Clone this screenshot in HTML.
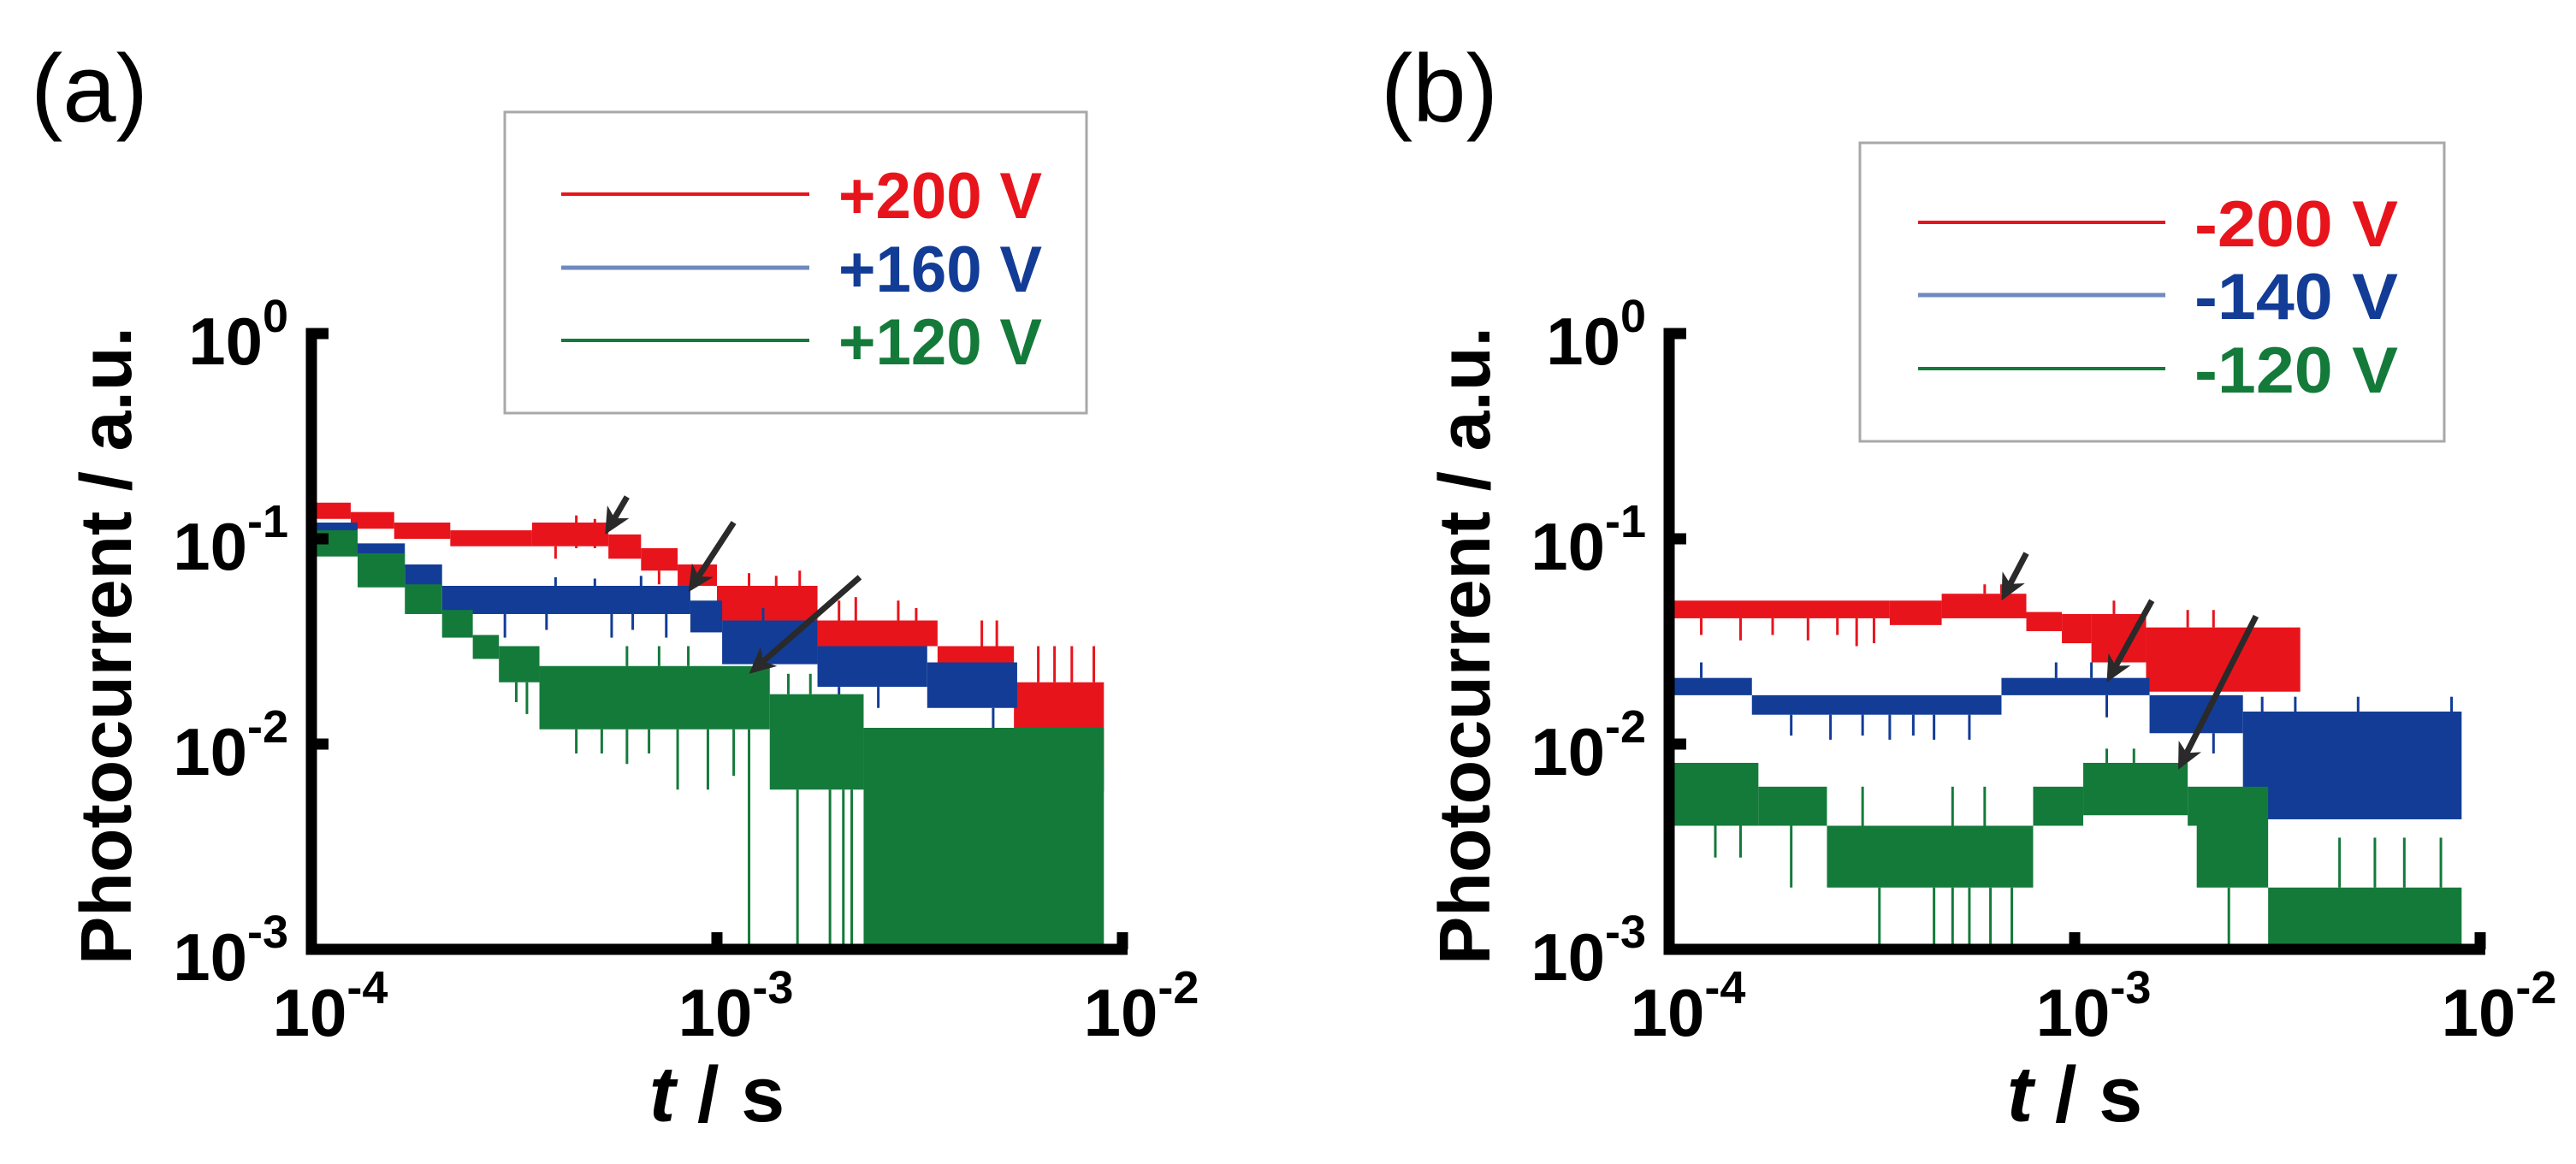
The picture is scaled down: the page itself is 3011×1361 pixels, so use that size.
<!DOCTYPE html>
<html><head><meta charset="utf-8"><style>
html,body{margin:0;padding:0;background:#fff}
svg{display:block}
text{font-family:"Liberation Sans",Arial,sans-serif}
</style></head><body>
<svg id="fig" width="3011" height="1361" viewBox="0 0 3011 1361" xmlns="http://www.w3.org/2000/svg">
<g id="pa"></g>
<g id="pb"></g>
</svg>
<script>
// ---- data: bands [tStart, tEnd, high, low] ----
const aRed=[[1.0e-4,1.25e-4,0.15,0.125],[1.25e-4,1.6e-4,0.135,0.112],[1.6e-4,2.2e-4,0.12,0.1],[2.2e-4,3.5e-4,0.11,0.092],[3.5e-4,5.4e-4,0.12,0.092],[5.4e-4,6.5e-4,0.105,0.08],[6.5e-4,8e-4,0.09,0.07],[8e-4,1.0e-3,0.075,0.059],[1.0e-3,1.77e-3,0.059,0.04],[1.77e-3,3.5e-3,0.04,0.03],[3.5e-3,5.4e-3,0.03,0.019],[5.4e-3,9.0e-3,0.02,0.0079]];
const aBlue=[[1e-4,1.3e-4,0.12,0.09],[1.3e-4,1.7e-4,0.095,0.072],[1.7e-4,2.1e-4,0.075,0.058],[2.1e-4,8.6e-4,0.059,0.043],[8.6e-4,1.03e-3,0.05,0.035],[1.03e-3,1.77e-3,0.04,0.0245],[1.77e-3,3.3e-3,0.03,0.019],[3.3e-3,5.5e-3,0.025,0.015],[5.5e-3,9e-3,0.0079,0.0059]];
const aGreen=[[1e-4,1.3e-4,0.11,0.082],[1.3e-4,1.7e-4,0.085,0.058],[1.7e-4,2.1e-4,0.06,0.043],[2.1e-4,2.5e-4,0.045,0.033],[2.5e-4,2.9e-4,0.034,0.026],[2.9e-4,3.65e-4,0.03,0.02],[3.65e-4,1.35e-3,0.024,0.0118],[1.35e-3,2.3e-3,0.0175,0.006],[2.3e-3,9e-3,0.012,0.001]];
const aRedSpikes=[[4.5e-4,0.09,0.13],[5.0e-4,0.09,0.125],[4.0e-4,0.092,0.08],[7.2e-4,0.07,0.06],[1.2e-3,0.059,0.068],[1.4e-3,0.059,0.066],[1.6e-3,0.059,0.07],[2.0e-3,0.04,0.05],[2.2e-3,0.04,0.052],[2.8e-3,0.03,0.05],[3.1e-3,0.04,0.046],[4.5e-3,0.03,0.04],[4.9e-3,0.03,0.04],[6.2e-3,0.02,0.03],[6.8e-3,0.02,0.03],[7.5e-3,0.02,0.03],[8.5e-3,0.02,0.03]];
const aBlueSpikes=[[3.0e-4,0.043,0.033],[3.8e-4,0.043,0.036],[5.5e-4,0.043,0.033],[6.2e-4,0.043,0.036],[7.5e-4,0.043,0.033],[4.0e-4,0.059,0.065],[6.5e-4,0.059,0.066],[5.0e-4,0.059,0.064],[1.3e-3,0.04,0.046],[2.0e-3,0.019,0.014],[2.5e-3,0.019,0.015],[4.8e-3,0.015,0.011],[6.0e-3,0.0079,0.012],[7.5e-3,0.0079,0.012]];
const aGreenSpikes=[[3.2e-4,0.02,0.016],[3.4e-4,0.02,0.014],[4.5e-4,0.0118,0.009],[5.2e-4,0.0118,0.009],[6.0e-4,0.0118,0.008],[6.8e-4,0.0118,0.009],[8.0e-4,0.0118,0.006],[9.5e-4,0.0118,0.006],[1.1e-3,0.0118,0.007],[1.2e-3,0.0118,0.001],[1.58e-3,0.006,0.001],[1.9e-3,0.006,0.001],[2.05e-3,0.006,0.001],[2.15e-3,0.006,0.001],[6.0e-4,0.024,0.03],[8.5e-4,0.024,0.03],[7.2e-4,0.024,0.03],[1.5e-3,0.0175,0.022],[1.7e-3,0.0175,0.022]];
const bRed=[[1.03e-4,3.5e-4,0.05,0.041],[3.5e-4,4.7e-4,0.05,0.038],[4.7e-4,7.6e-4,0.054,0.041],[7.6e-4,9.3e-4,0.044,0.0355],[9.3e-4,1.1e-3,0.043,0.031],[1.1e-3,1.5e-3,0.043,0.025],[1.5e-3,3.6e-3,0.037,0.018]];
const bBlue=[[1.03e-4,1.6e-4,0.021,0.0173],[1.6e-4,6.6e-4,0.0173,0.0139],[6.6e-4,1.53e-3,0.021,0.0173],[1.53e-3,2.6e-3,0.0173,0.0113],[2.6e-3,9e-3,0.0144,0.0043]];
const bGreen=[[1.03e-4,1.66e-4,0.0081,0.004],[1.66e-4,2.45e-4,0.0062,0.004],[2.45e-4,7.9e-4,0.004,0.002],[7.9e-4,1.05e-3,0.0062,0.004],[1.05e-3,1.9e-3,0.0081,0.0045],[1.9e-3,3.0e-3,0.0062,0.004],[2.0e-3,3.0e-3,0.004,0.002],[3.0e-3,9e-3,0.002,0.001]];
const bRedSpikes=[[1.2e-4,0.041,0.034],[1.5e-4,0.041,0.032],[1.8e-4,0.041,0.034],[2.2e-4,0.041,0.032],[2.6e-4,0.041,0.034],[2.9e-4,0.041,0.03],[3.2e-4,0.041,0.031],[6.0e-4,0.054,0.06],[6.6e-4,0.054,0.06],[1.9e-3,0.037,0.045],[2.2e-3,0.037,0.045],[1.25e-3,0.043,0.05],[2.6e-3,0.018,0.025],[1.7e-3,0.025,0.02]];
const bBlueSpikes=[[1.2e-4,0.021,0.025],[2.0e-4,0.0139,0.011],[2.5e-4,0.0139,0.0105],[3.0e-4,0.0139,0.011],[3.5e-4,0.0139,0.0105],[4.0e-4,0.0139,0.011],[4.5e-4,0.0139,0.0105],[5.5e-4,0.0139,0.0105],[9e-4,0.021,0.025],[1.1e-3,0.021,0.025],[1.2e-3,0.0173,0.0135],[2.9e-3,0.0144,0.017],[3.5e-3,0.0144,0.017],[5e-3,0.0144,0.017],[8.5e-3,0.0144,0.017],[2.2e-3,0.0113,0.009]];
const bGreenSpikes=[[1.3e-4,0.004,0.0028],[1.5e-4,0.004,0.0028],[2.0e-4,0.004,0.002],[3.0e-4,0.004,0.0062],[5.0e-4,0.004,0.0062],[6.0e-4,0.004,0.0062],[3.3e-4,0.002,0.001],[4.5e-4,0.002,0.001],[5.0e-4,0.002,0.001],[5.5e-4,0.002,0.001],[6.2e-4,0.002,0.001],[7.0e-4,0.002,0.001],[1.2e-3,0.0081,0.0095],[1.4e-3,0.0081,0.0095],[2.4e-3,0.002,0.001],[4.5e-3,0.002,0.0035],[5.5e-3,0.002,0.0035],[6.5e-3,0.002,0.0035],[8.0e-3,0.002,0.0035]];
const xTicks=[1e-4,1e-3,1e-2];
const xTickExp=["-4","-3","-2"];
const yTicks=[1,0.1,0.01,0.001];
const yTickExp=["0","-1","-2","-3"];
const aLegend=["+200 V","+160 V","+120 V"];
const bLegend=["-200 V","-140 V","-120 V"];
const colors=["#e8141c","#123c96","#147a3a"];
// arrows: [t0,v0,t1,v1] (tail -> head) in data coords
const aArrows=[[6.0e-4,0.16,5.3e-4,0.105],[1.1e-3,0.12,8.5e-4,0.055],[2.25e-3,0.065,1.2e-3,0.022]];
const bArrows=[[7.6e-4,0.085,6.6e-4,0.05],[1.55e-3,0.05,1.2e-3,0.02],[2.8e-3,0.042,1.8e-3,0.0075]];

const NS="http://www.w3.org/2000/svg";
function mk(tag,attrs,parent){const e=document.createElementNS(NS,tag);for(const k in attrs)e.setAttribute(k,attrs[k]);parent.appendChild(e);return e;}

function panel(g,P){
  const X=t=>P.x0+(Math.log10(t)+4)*P.dx;
  const Y=v=>P.y0-(Math.log10(v))*P.dy;
  [P.red,P.blue,P.green].forEach((bands,i)=>{
    const sg=mk('g',{},g);
    
    
    bands.forEach(b=>{
      const r=mk('rect',{x:X(b[0]),y:Y(b[2]),width:Math.max(1,X(b[1])-X(b[0])),height:Math.max(2,Y(b[3])-Y(b[2])),fill:colors[i]},sg);
      
      
    });
    [P.rs,P.bs,P.gs][i].forEach(s=>{
      const l=mk('line',{x1:X(s[0]),x2:X(s[0]),y1:Y(s[1]),y2:Y(s[2]),stroke:colors[i],'stroke-width':3},sg);
      
      
    });
  });
  const ax=mk('g',{stroke:'#000','stroke-width':13,fill:'none'},g);
  
  
  const xl=X(1e-4), xr=X(1e-2), yt=Y(1), yb=Y(1e-3);
  mk('path',{d:`M${xl+20},${yt} H${xl} V${yb} H${xr+6}`,'stroke-linejoin':'miter'},ax);
  [0.1,0.01].forEach(v=>mk('line',{x1:xl,x2:xl+20,y1:Y(v),y2:Y(v)},ax));
  [1e-3,1e-2].forEach(t=>mk('line',{x1:X(t),x2:X(t),y1:yb,y2:yb-20},ax));
  yTicks.forEach((v,i)=>{
    const tx=mk('text',{x:P.yLabR,y:Y(v)+36,'text-anchor':'end','font-size':78,'font-weight':'bold'},g);
    
    
    const a=mk('tspan',{},tx);a.textContent='10';
    const s=mk('tspan',{dy:-38,'font-size':54},tx);s.textContent=yTickExp[i];
  });
  xTicks.forEach((t,i)=>{
    const tx=mk('text',{x:X(t)+22,y:1211,'text-anchor':'middle','font-size':78,'font-weight':'bold'},g);
    
    
    const a=mk('tspan',{},tx);a.textContent='10';
    const s=mk('tspan',{dy:-38,'font-size':54},tx);s.textContent=xTickExp[i];
  });
  const xt=mk('text',{x:(xl+xr)/2,y:1311,'text-anchor':'middle','font-size':92,'font-weight':'bold'},g);
  
  
  const it=mk('tspan',{'font-style':'italic'},xt);it.textContent='t';
  const rt=mk('tspan',{},xt);rt.textContent=' / s';
  const yT=mk('text',{x:0,y:0,'text-anchor':'middle','font-size':84,'font-weight':'bold',transform:`translate(${P.yTitleX},755) rotate(-90)`,textLength:746,lengthAdjust:'spacingAndGlyphs'},g);
  
  
  yT.textContent='Photocurrent / a.u.';
  const pl=mk('text',{x:P.lblX,y:142,'font-size':112},g);
  
  
  pl.textContent=P.lbl;
  const lg=mk('g',{},g);
  
  
  mk('rect',{x:P.lx,y:P.ly,width:P.lw,height:P.lh,fill:'#fff',stroke:'#a8a8a8','stroke-width':3},lg);
  P.leg.forEach((s,i)=>{
    const ly=P.lineY[i];
    const ln=mk('line',{x1:P.l1,x2:P.l2,y1:ly,y2:ly,stroke:colors[i],'stroke-width':i==1?5:4,opacity:i==1?0.6:1},lg);
    
    
    const tx=mk('text',{x:P.tx,y:ly+28,'font-size':76,'font-weight':'bold',fill:colors[i],textLength:238,lengthAdjust:'spacingAndGlyphs'},lg);
    
    
    tx.textContent=s;
  });
  P.arrows.forEach(a=>{
    const x1=X(a[0]),y1=Y(a[1]),x2=X(a[2]),y2=Y(a[3]);
    const ang=Math.atan2(y2-y1,x2-x1),L=34,w=0.45;
    const ag=mk('g',{},g);
    
    
    mk('line',{x1:x1,y1:y1,x2:x2-Math.cos(ang)*20,y2:y2-Math.sin(ang)*20,stroke:'#2a2a2a','stroke-width':7},ag);
    const p1=[x2-L*Math.cos(ang-w),y2-L*Math.sin(ang-w)],p2=[x2-L*Math.cos(ang+w),y2-L*Math.sin(ang+w)];
    mk('polygon',{points:`${x2},${y2} ${p1} ${x2-22*Math.cos(ang)},${y2-22*Math.sin(ang)} ${p2}`,fill:'#2a2a2a'},ag);
  });
}
panel(document.getElementById('pa'),{x0:364,dx:474,y0:390,dy:240,red:aRed,blue:aBlue,green:aGreen,rs:aRedSpikes,bs:aBlueSpikes,gs:aGreenSpikes,
  yLabR:337,yTitleX:153,lbl:'(a)',lblX:36,lx:590,ly:131,lw:680,lh:352,l1:656,l2:946,lineY:[227,313,398],tx:980,leg:aLegend,arrows:aArrows});
panel(document.getElementById('pb'),{x0:1951,dx:474,y0:390,dy:240,red:bRed,blue:bBlue,green:bGreen,rs:bRedSpikes,bs:bBlueSpikes,gs:bGreenSpikes,
  yLabR:1924,yTitleX:1741,lbl:'(b)',lblX:1614,lx:2174,ly:167,lw:683,lh:349,l1:2242,l2:2531,lineY:[260,345,431],tx:2565,leg:bLegend,arrows:bArrows});
</script>
</body></html>
